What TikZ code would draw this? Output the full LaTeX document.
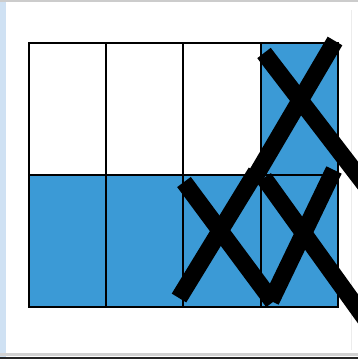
\documentclass[tikz,border=0pt]{standalone}
\definecolor{cellblue}{HTML}{3B9AD6}
\definecolor{stripblue}{HTML}{CFE1F3}
\begin{document}
\begin{tikzpicture}[x=1pt,y=-1pt,
  gridline/.style={draw=black,line width=2.4pt},
  crossline/.style={draw=black,line width=17pt}]
\useasboundingbox (0,0) rectangle (358,359);
\clip (0,0) rectangle (358,359);
% frame of the screenshot
\fill[stripblue] (0,0) rectangle (6,359);
\fill[gray!40] (0,0) rectangle (358,1.5);
\fill[gray!35] (0,353) rectangle (358,355.5);
\fill[black!85] (0,356.5) rectangle (358,359);
\draw[gray!15,line width=0.8pt] (351,10) -- (351,350);
% blue cells
\fill[cellblue] (261,43) rectangle (338,175);
\fill[cellblue] (29,175) rectangle (338,307);
% grid
\draw[gridline] (29,43) rectangle (338,307);
\draw[gridline] (29,175) -- (338,175);
\foreach \x in {106,183,261} \draw[gridline] (\x,43) -- (\x,307);
% crosses
\draw[crossline] (264,53) -- (366,186);
\draw[crossline] (335,41) -- (255,177);
\draw[crossline] (184,182) -- (273,302);
\draw[crossline] (179,298) -- (256,172);
\draw[crossline] (264,178) -- (366,320);
\draw[crossline] (271,301) -- (334,170);
\end{tikzpicture}
\end{document}
